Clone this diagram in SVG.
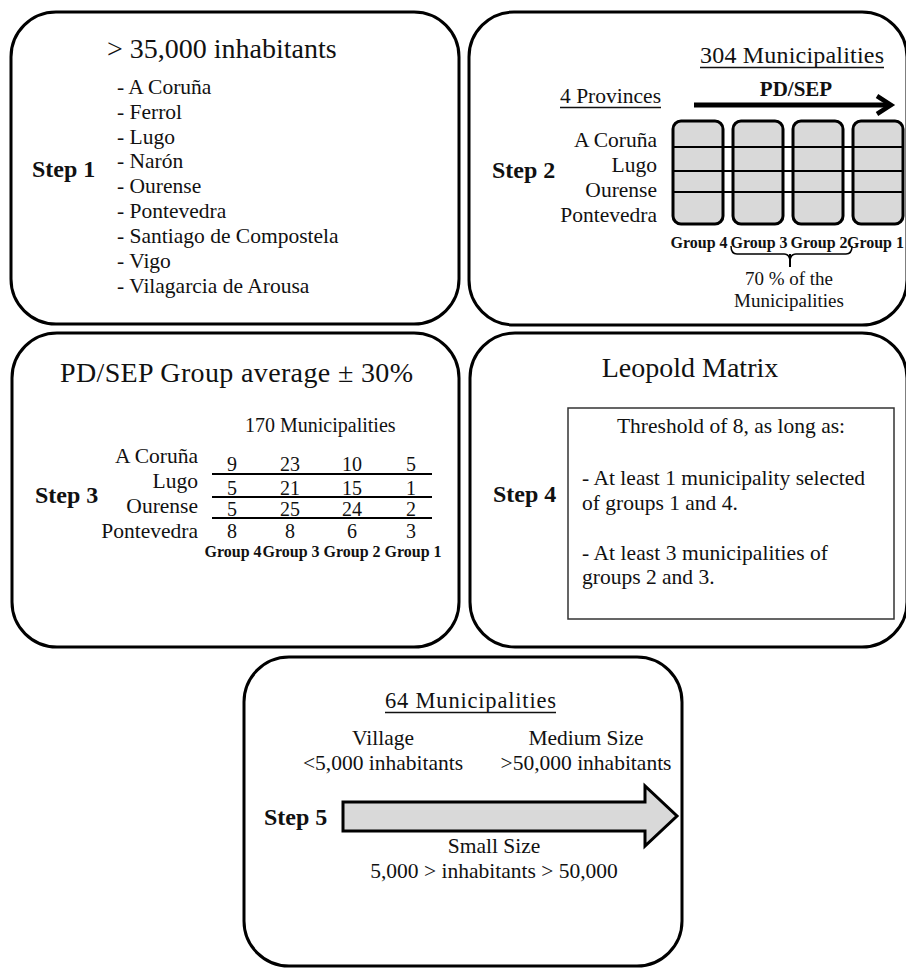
<svg xmlns="http://www.w3.org/2000/svg" width="906" height="968" viewBox="0 0 906 968">
<style>
  .box{fill:#fff;stroke:#000;stroke-width:3}
  text{font-family:"Liberation Serif","Times New Roman",serif;fill:#111}
  .t28{font-size:28px}
  .t24{font-size:24px}
  .t22{font-size:21.5px}
  .t20{font-size:20px}
  .t19{font-size:19px}
  .step{font-size:24px;font-weight:bold}
  .grp{font-size:16px;font-weight:bold;text-anchor:middle}
  .mid{text-anchor:middle}
  .end{text-anchor:end}
  .ul{stroke:#111;stroke-width:1.3}
  .gcol{fill:#d9d9d9;stroke:#000;stroke-width:3}
  .row{stroke:#000;stroke-width:2}
</style>
<rect width="906" height="968" fill="#fff"/>

<g id="step1">
  <rect class="box" x="11" y="12" width="448" height="312" rx="45"/>
  <text class="t28" x="107" y="58">&gt; 35,000 inhabitants</text>
  <text class="step" x="32" y="177">Step 1</text>
  <g class="t22">
    <text x="117" y="94">- A Coruña</text>
    <text x="117" y="119">- Ferrol</text>
    <text x="117" y="144">- Lugo</text>
    <text x="117" y="168">- Narón</text>
    <text x="117" y="193">- Ourense</text>
    <text x="117" y="218">- Pontevedra</text>
    <text x="117" y="243">- Santiago de Compostela</text>
    <text x="117" y="268">- Vigo</text>
    <text x="117" y="293">- Vilagarcia  de Arousa</text>
  </g>
</g>

<g id="step2">
  <rect class="box" x="469" y="12" width="438" height="313" rx="45"/>
  <text class="t24" x="700" y="63" textLength="184">304 Municipalities</text>
  <line class="ul" x1="700" y1="67.5" x2="884" y2="67.5"/>
  <text x="796" y="96" style="font-size:21px;font-weight:bold" text-anchor="middle">PD/SEP</text>
  <line x1="694" y1="105" x2="888" y2="105" stroke="#000" stroke-width="5"/>
  <polyline points="877,96 891,105 877,114" fill="none" stroke="#000" stroke-width="4.5" stroke-linejoin="miter"/>
  <text class="t22" x="560" y="103" textLength="101">4 Provinces</text>
  <line class="ul" x1="560" y1="107.5" x2="661" y2="107.5"/>
  <text class="step" x="492" y="178">Step 2</text>
  <g class="t22 end">
    <text x="657" y="147">A Coruña</text>
    <text x="657" y="172">Lugo</text>
    <text x="657" y="197">Ourense</text>
    <text x="657" y="222">Pontevedra</text>
  </g>
  <rect class="gcol" x="673" y="121" width="50" height="103" rx="8"/>
  <rect class="gcol" x="733" y="121" width="50" height="103" rx="8"/>
  <rect class="gcol" x="793" y="121" width="50" height="103" rx="8"/>
  <rect class="gcol" x="853" y="121" width="50" height="103" rx="8"/>
  <line class="row" x1="673" y1="147" x2="903" y2="147"/>
  <line class="row" x1="673" y1="171" x2="903" y2="171"/>
  <line class="row" x1="673" y1="192" x2="903" y2="192"/>
  <text class="grp" x="699" y="248">Group 4</text>
  <text class="grp" x="759" y="248">Group 3</text>
  <text class="grp" x="819" y="248">Group 2</text>
  <text class="grp" x="904" y="248" style="text-anchor:end">Group 1</text>
  <path d="M731,246 Q731,254 737,254 L784,254 Q790,254 790,262 Q790,254 796,254 L846,254 Q852,254 852,246" fill="none" stroke="#000" stroke-width="1.5"/>
  <line x1="790" y1="254" x2="790" y2="267" stroke="#000" stroke-width="2"/>
  <text class="t19 mid" x="789" y="285">70 % of the</text>
  <text class="t19 mid" x="789" y="307">Municipalities</text>
</g>

<g id="step3">
  <rect class="box" x="12" y="333" width="447" height="314" rx="45"/>
  <text class="t28" x="60" y="382" textLength="353">PD/SEP Group average ± 30%</text>
  <text class="t20" x="245" y="432">170 Municipalities</text>
  <text class="step" x="35" y="503">Step 3</text>
  <g class="t22 end">
    <text x="198" y="463">A Coruña</text>
    <text x="198" y="488">Lugo</text>
    <text x="198" y="513">Ourense</text>
    <text x="198" y="538">Pontevedra</text>
  </g>
  <g class="t20 mid">
    <text x="232" y="471">9</text><text x="290" y="471">23</text><text x="352" y="471">10</text><text x="411" y="471">5</text>
    <text x="232" y="495">5</text><text x="290" y="495">21</text><text x="352" y="495">15</text><text x="411" y="495">1</text>
    <text x="232" y="516">5</text><text x="290" y="516">25</text><text x="352" y="516">24</text><text x="411" y="516">2</text>
    <text x="232" y="538">8</text><text x="290" y="538">8</text><text x="352" y="538">6</text><text x="411" y="538">3</text>
  </g>
  <line class="row" x1="212" y1="474" x2="432" y2="474"/>
  <line class="row" x1="212" y1="497" x2="432" y2="497"/>
  <line class="row" x1="212" y1="518" x2="432" y2="518"/>
  <text class="grp" x="233" y="557">Group 4</text>
  <text class="grp" x="291" y="557">Group 3</text>
  <text class="grp" x="352" y="557">Group 2</text>
  <text class="grp" x="413" y="557">Group 1</text>
</g>

<g id="step4">
  <rect class="box" x="470" y="333" width="437" height="314" rx="45"/>
  <text class="t28 mid" x="690" y="377">Leopold Matrix</text>
  <text class="step" x="493" y="502">Step 4</text>
  <rect x="568" y="408" width="326" height="211" fill="#fff" stroke="#333" stroke-width="1.5"/>
  <text class="t22 mid" x="731" y="433">Threshold of  8, as long as:</text>
  <text class="t22" x="582" y="485" textLength="283">- At least 1 municipality selected</text>
  <text class="t22" x="582" y="510">of groups 1 and 4.</text>
  <text class="t22" x="582" y="560" textLength="246">- At least 3 municipalities  of</text>
  <text class="t22" x="582" y="584">groups 2 and 3.</text>
</g>

<g id="step5">
  <rect class="box" x="244" y="657" width="438" height="309" rx="45"/>
  <text x="385" y="708" style="font-size:22.5px" textLength="171">64 Municipalities</text>
  <line class="ul" x1="385" y1="712.5" x2="556" y2="712.5"/>
  <text class="t22 mid" x="383" y="745">Village</text>
  <text class="t22 mid" x="383" y="770">&lt;5,000 inhabitants</text>
  <text class="t22 mid" x="586" y="745">Medium Size</text>
  <text class="t22 mid" x="586" y="770">&gt;50,000 inhabitants</text>
  <text class="step" x="264" y="825">Step 5</text>
  <polygon points="343,802 645,802 645,786 677,816 645,846 645,831 343,831" fill="#d9d9d9" stroke="#000" stroke-width="3"/>
  <text class="t22 mid" x="494" y="853">Small Size</text>
  <text class="t22 mid" x="494" y="878">5,000 &gt; inhabitants &gt; 50,000</text>
</g>

<g id="connectors"/>
</svg>
